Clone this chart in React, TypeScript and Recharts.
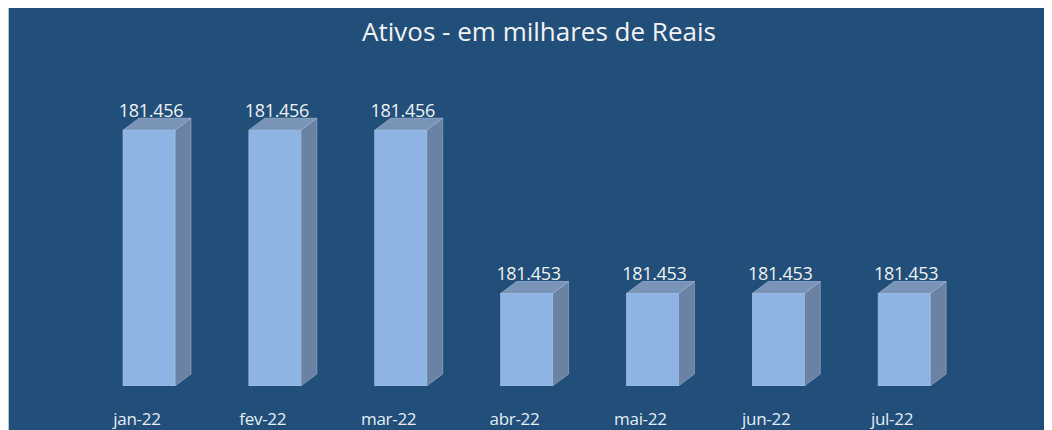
import React from 'react';
import { BarChart, Bar, XAxis, YAxis, LabelList } from 'recharts';

// valores em milhares de reais
const months = ['jan-22', 'fev-22', 'mar-22', 'abr-22', 'mai-22', 'jun-22', 'jul-22'];
const ativos = [181456, 181456, 181456, 181453, 181453, 181453, 181453];
const yDomain = [181451.3, 181456.5];

const chartData = months.map((m, i) => ({ name: m, ativos: ativos[i] }));

const BG = '#214f7a';
const FRONT = '#8db4e2';
const SIDE = '#6a82a3';
const TOP = '#7a94b8';
const DX = 16;
const DY = 12;

const fmt = (n: number) => String(n).replace(/\B(?=(\d{3})+(?!\d))/g, '.');

const Box3D = (props: any) => {
    const { x, y, width: w, height: h } = props;
    const side = `${x + w},${y} ${x + w + DX},${y - DY} ${x + w + DX},${y + h - DY} ${x + w},${y + h}`;
    const top = `${x},${y} ${x + DX},${y - DY} ${x + w + DX},${y - DY} ${x + w},${y}`;
    return (
        <g>
            <polygon points={side} fill={SIDE} stroke="#9fb3cc" strokeWidth={0.6} />
            <polygon points={top} fill={TOP} stroke="#a9bdd6" strokeWidth={0.6} />
            <rect x={x} y={y} width={w} height={h} fill={FRONT} stroke="#a9c5e8" strokeWidth={0.6} />
        </g>
    );
};

const ValueLabel = (props: any) => {
    const { x, y, width, value } = props;
    return (
        <text x={x + width / 2 + 2} y={y - DY - 1} textAnchor="middle" fill="#f2f2f2"
            fontFamily="'Open Sans', sans-serif" fontSize={18} letterSpacing={-0.3}>
            {fmt(value)}
        </text>
    );
};

const MonthTick = (props: any) => {
    const { x, y, payload } = props;
    return (
        <text x={x - 12} y={y + 31} textAnchor="middle" fill="#e6edf5"
            fontFamily="'Open Sans', sans-serif" fontSize={17} letterSpacing={-0.3}>
            {payload.value}
        </text>
    );
};

const App: React.FC = () => {
    return (
        <div style={{ width: 1044, height: 422, background: BG, position: 'relative', borderLeft: '1px solid #b8c4d0', boxSizing: 'border-box' }}>
            <div style={{ position: 'absolute', left: 4, top: 5, width: 1052, textAlign: 'center', color: '#f2f2f2', fontFamily: "'Open Sans', sans-serif", fontSize: 26 }}>
                Ativos - em milhares de Reais
            </div>
            <BarChart width={1043} height={422} data={chartData} margin={{ top: 95, right: 85, left: 77, bottom: 0 }} barSize={52}>
                <XAxis dataKey="name" axisLine={false} tickLine={false} height={44} tick={<MonthTick />} interval={0} />
                <YAxis hide domain={yDomain} allowDataOverflow type="number" />
                <Bar dataKey="ativos" shape={<Box3D />} isAnimationActive={false}>
                    <LabelList dataKey="ativos" content={<ValueLabel />} />
                </Bar>
            </BarChart>
        </div>
    );
};

export default App;
